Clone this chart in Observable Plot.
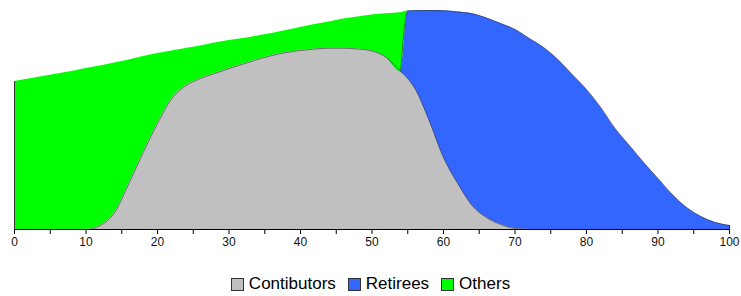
<!DOCTYPE html>
<html>
<head>
<meta charset="utf-8">
<script src="https://cdn.jsdelivr.net/npm/d3@7"></script>
<script src="https://cdn.jsdelivr.net/npm/@observablehq/plot@0.6"></script>
<style>
  html, body { margin: 0; padding: 0; background: #fff; }
  #chart { width: 741px; }
  .legend { display: flex; justify-content: center; align-items: center; height: 48px;
            font-family: "Liberation Sans", Arial, sans-serif; font-size: 17px; color: #000; }
  .legend .item { display: flex; align-items: center; margin: 0 6px; }
  .legend .sw { width: 11px; height: 11px; border: 1px solid #333; margin-right: 5px; }
</style>
</head>
<body>
<div id="chart"></div>
<script>
const ages = [0,2,4,6,8,10,12,14,16,18,20,22,24,26,28,30,32,34,36,38,40,42,44,46,48,50,52,54,55,56,58,60,62,64,66,68,70,72,74,76,78,80,82,84,86,88,90,92,94,96,98,100];
const contributors = [0,0,0,0,0,0,4,17,46,77,106,131,144,151,156,161,165.5,170,174,177,179,180.5,181.3,181.3,180.5,178.5,172,158,151,141,109,72,46,24,12,5,1,0,0,0,0,0,0,0,0,0,0,0,0,0,0,0];
const retirees = [0,0,0,0,0,0,0,0,0,0,0,0,0,0,0,0,0,0,0,0,0,0,0,0,0,0,0,0,67.5,77.8,110,146.7,171.5,191.8,199.5,201,199,191,182,170,155,140,122,101,84,67,51,35,22,13,7,4];
const others = [148,150.5,153,155.5,158,161,159.5,149.5,123.5,96,70,47.5,37,32.5,30.5,28,25.5,23.5,22,22,23,24.5,26.2,29.2,32,36,43.8,58.7,0,0,0,0,0,0,0,0,0,0,0,0,0,0,0,0,0,0,0,0,0,0,0,0];
const seriesNames = ["Contibutors", "Retirees", "Others"];
const seriesColors = ["#c0c0c0", "#3366ff", "#00ff00"];
const xTicks = d3.range(0, 101, 5);

const rows = ages.map((a, i) => {
  const c = contributors[i], r = retirees[i], o = others[i];
  return {age: a, c0: 0, c1: c, r1: c + r, o1: c + r + o};
});
const edges = [rows[0], rows[rows.length - 1]];
const blueTop = rows.filter(d => d.age >= 54);

const plot = Plot.plot({
  width: 741,
  height: 260,
  marginLeft: 14,
  marginRight: 12,
  marginTop: 10,
  marginBottom: 31,
  x: {domain: [0, 100], axis: null},
  y: {domain: [0, 219], axis: null},
  style: {fontFamily: "Liberation Sans, Arial, sans-serif", fontSize: "12px", color: "#111", background: "#fff"},
  marks: [
    Plot.areaY(rows, {x: "age", y1: "c0", y2: "c1", fill: seriesColors[0], curve: "monotone-x"}),
    Plot.areaY(rows, {x: "age", y1: "c1", y2: "r1", fill: seriesColors[1], curve: "monotone-x"}),
    Plot.areaY(rows, {x: "age", y1: "r1", y2: "o1", fill: seriesColors[2], curve: "monotone-x"}),
    Plot.lineY(rows, {x: "age", y: "c1", stroke: "#333", strokeWidth: 0.6, curve: "monotone-x"}),
    Plot.lineY(blueTop, {x: "age", y: "r1", stroke: "#333", strokeWidth: 0.6, curve: "monotone-x"}),
    Plot.ruleX(edges, {x: "age", y1: 0, y2: "o1", stroke: "#333", strokeWidth: 1}),
    Plot.ruleY([0], {stroke: "#000", strokeWidth: 1}),
    Plot.axisX({ticks: xTicks, tickFormat: d => d % 10 === 0 ? String(d) : "", tickSize: 5, tickPadding: 3, label: null, stroke: "#000", fill: "#111"})
  ]
});
document.getElementById("chart").appendChild(plot);

const legend = document.createElement("div");
legend.className = "legend";
seriesNames.forEach((name, i) => {
  const item = document.createElement("div");
  item.className = "item";
  const sw = document.createElement("span");
  sw.className = "sw";
  sw.style.background = seriesColors[i];
  const lab = document.createElement("span");
  lab.textContent = name;
  item.appendChild(sw);
  item.appendChild(lab);
  legend.appendChild(item);
});
document.getElementById("chart").appendChild(legend);
</script>
</body>
</html>
